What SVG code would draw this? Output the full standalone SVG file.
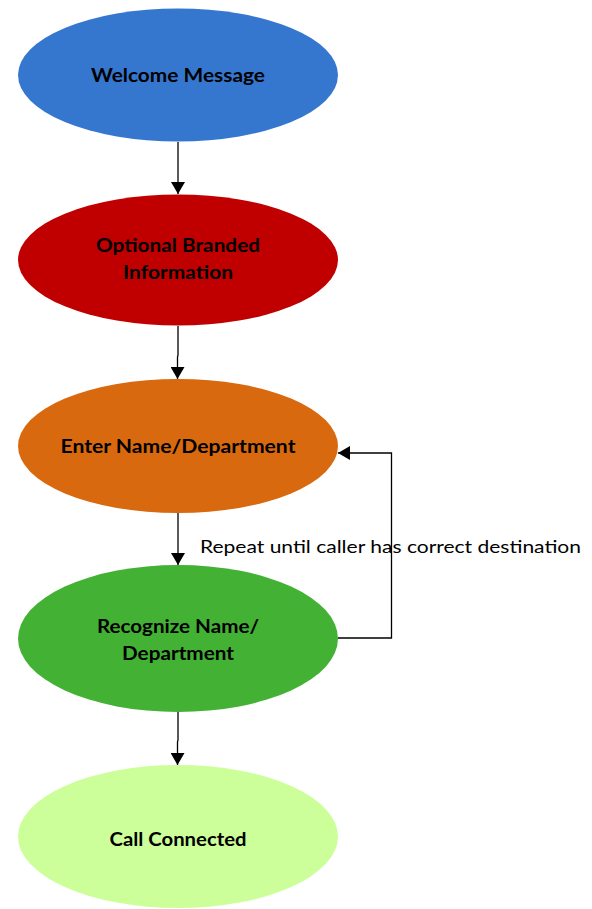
<svg xmlns="http://www.w3.org/2000/svg" width="592" height="909" viewBox="0 0 592 909">
<style>
.lbl{font-family:Lato,"Open Sans","Liberation Sans",sans-serif;font-weight:bold;font-size:18px;fill:#000;text-anchor:middle}
.note{font-family:Lato,"Open Sans","Liberation Sans",sans-serif;font-size:18px;fill:#000}
.con{fill:none;stroke:#000;stroke-width:1.3}
</style>
<defs>
<marker id="ah" viewBox="0 0 12 14" refX="12" refY="7" markerWidth="12" markerHeight="14" markerUnits="userSpaceOnUse" orient="auto">
<path d="M0,0 L12,7 L0,14 Z" fill="#000"/>
</marker>
</defs>
<g id="n1"><ellipse cx="178" cy="75" rx="160" ry="66.5" fill="#3577CF"/><text class="lbl" x="178" y="82" textLength="174" lengthAdjust="spacingAndGlyphs">Welcome Message</text></g>
<g id="n2"><ellipse cx="178" cy="260" rx="160" ry="65.5" fill="#C00000"/><text class="lbl" x="178" y="252" textLength="164" lengthAdjust="spacingAndGlyphs">Optional Branded</text><text class="lbl" x="178" y="279" textLength="110" lengthAdjust="spacingAndGlyphs">Information</text></g>
<g id="n3"><ellipse cx="178" cy="446" rx="160" ry="67" fill="#D9690E"/><text class="lbl" x="178" y="453" textLength="235" lengthAdjust="spacingAndGlyphs">Enter Name/Department</text></g>
<g id="n4"><ellipse cx="178" cy="638.5" rx="160" ry="73.5" fill="#43B134"/><text class="lbl" x="178" y="633" textLength="162" lengthAdjust="spacingAndGlyphs">Recognize Name/</text><text class="lbl" x="178" y="660" textLength="112" lengthAdjust="spacingAndGlyphs">Department</text></g>
<g id="n5"><ellipse cx="178" cy="836.5" rx="160" ry="71.5" fill="#CCFF99"/><text class="lbl" x="178" y="846" textLength="137" lengthAdjust="spacingAndGlyphs">Call Connected</text></g>
<g id="connectors">
<path class="con" d="M178,142 L178,194" marker-end="url(#ah)"/>
<path class="con" d="M178,326 L178,355 L177.5,357 L177.5,379" marker-end="url(#ah)"/>
<path class="con" d="M178,513 L178,565" marker-end="url(#ah)"/>
<path class="con" d="M178,712 L178,740 L177.5,742 L177.5,765" marker-end="url(#ah)"/>
<path class="con" d="M338,638 L391.5,638 L391.5,453 L338,453" marker-end="url(#ah)"/>
<text class="note" x="200" y="553" textLength="381" lengthAdjust="spacingAndGlyphs">Repeat until caller has correct destination</text>
</g>
</svg>
